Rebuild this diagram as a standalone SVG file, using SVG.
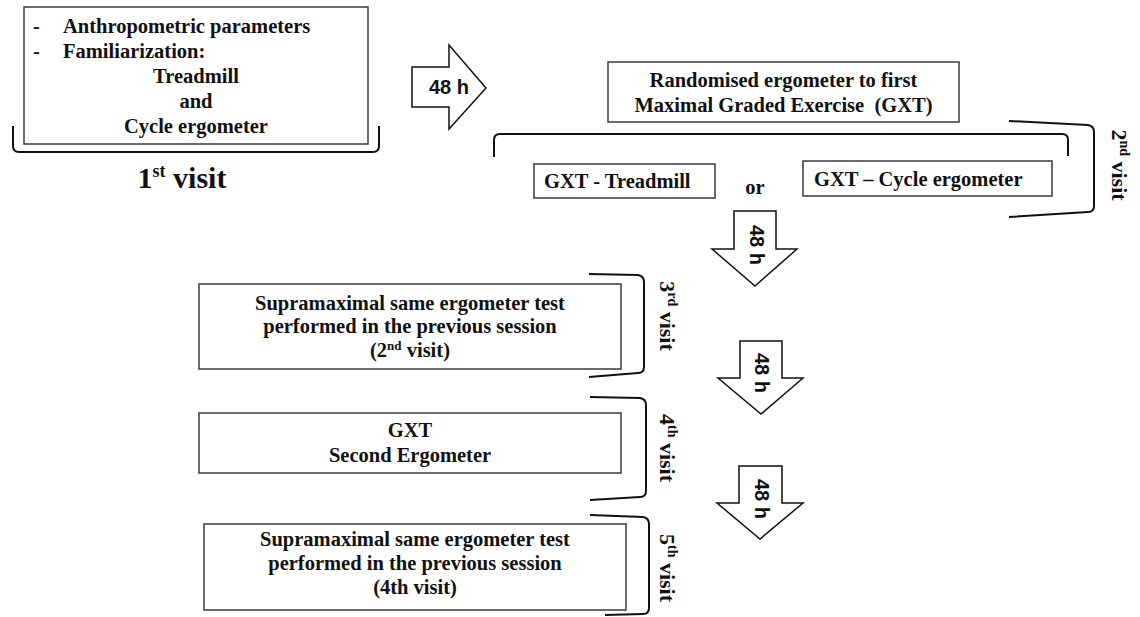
<svg xmlns="http://www.w3.org/2000/svg" width="1140" height="617" viewBox="0 0 1140 617">
<style>
.box{fill:#fff;stroke:#3a3a3a;stroke-width:1.5}
.br{fill:none;stroke:#111;stroke-width:2}
.arr{fill:#fff;stroke:#111;stroke-width:1.5;stroke-linejoin:miter}
.t{font-family:"Liberation Serif","Times New Roman",serif;font-weight:bold;font-size:20.5px;fill:#111}
.c{text-anchor:middle}
.lab{font-family:"Liberation Serif","Times New Roman",serif;font-weight:bold;font-size:22px;fill:#111;text-anchor:middle}
.h{font-family:"Liberation Sans",Arial,sans-serif;font-weight:bold;font-size:20px;fill:#111;text-anchor:middle}
</style>
<rect width="1140" height="617" fill="#fff"/>
<g id="connectors">
<polygon class="arr" points="412,67 449,67 449,45 486,88 449,129 449,107 412,107"/>
<text class="h" x="449" y="94">48 h</text>
<polygon class="arr" points="734,211 776,211 776,249 797,249 755,286 712,249 734,249"/>
<text class="h" transform="translate(750,245) rotate(90)">48 h</text>
<polygon class="arr" points="740,341 782,341 782,378 803,378 761,414 718,378 740,378"/>
<text class="h" transform="translate(755,373) rotate(90)">48 h</text>
<polygon class="arr" points="739,466 782,466 782,503 803,503 760,539 717,503 739,503"/>
<text class="h" transform="translate(755,499) rotate(90)">48 h</text>
</g>
<g id="visit1">
<rect class="box" x="24" y="7" width="344" height="137"/>
<text class="t" x="33" y="33">-</text>
<text class="t" x="63" y="33">Anthropometric parameters</text>
<text class="t" x="33" y="58">-</text>
<text class="t" x="63" y="58">Familiarization:</text>
<text class="t c" x="196" y="83">Treadmill</text>
<text class="t c" x="196" y="108">and</text>
<text class="t c" x="196" y="133">Cycle ergometer</text>
<path class="br" d="M13,126 L13,146 Q13,152 19,152 L373,152 Q379,152 379,146 L379,126"/>
<text class="lab" x="182" y="188" style="font-size:30px">1<tspan dy="-11" font-size="18">st</tspan><tspan dy="11"> visit</tspan></text>
</g>
<g id="visit2">
<rect class="box" x="608" y="62" width="351" height="60"/>
<text class="t c" x="783.5" y="87">Randomised ergometer to first</text>
<text class="t c" x="783.5" y="112" xml:space="preserve">Maximal Graded Exercise  (GXT)</text>
<path class="br" d="M494,157 L494,140 Q494,134 500,134 L1062,134 Q1068,134 1068,140 L1068,156"/>
<rect class="box" x="534" y="164" width="181" height="34"/>
<text class="t" x="544" y="188">GXT - Treadmill</text>
<text class="t c" x="755" y="194">or</text>
<rect class="box" x="803" y="161" width="249" height="35"/>
<text class="t" x="814" y="186">GXT – Cycle ergometer</text>
<path class="br" d="M1009,121 L1088,125 Q1094,126 1094,132 L1094,206 Q1094,212 1088,212 L1009,217"/>
<text class="lab" transform="translate(1112,165) rotate(90)">2<tspan dy="-8" font-size="14">nd</tspan><tspan dy="8"> visit</tspan></text>
</g>
<g id="visit3">
<rect class="box" x="199" y="284" width="422" height="85"/>
<text class="t c" x="410" y="310">Supramaximal same ergometer test</text>
<text class="t c" x="410" y="333">performed in the previous session</text>
<text class="t c" x="410" y="357">(2<tspan dy="-7" font-size="13">nd</tspan><tspan dy="7"> visit)</tspan></text>
<path class="br" d="M589,274 L638,275 Q644,276 644,282 L644,367 Q644,373 638,373 L589,377"/>
<text class="lab" transform="translate(660,316) rotate(90)">3<tspan dy="-8" font-size="14">rd</tspan><tspan dy="8"> visit</tspan></text>
</g>
<g id="visit4">
<rect class="box" x="199" y="413" width="422" height="60"/>
<text class="t c" x="410" y="437">GXT</text>
<text class="t c" x="410" y="462">Second Ergometer</text>
<path class="br" d="M590,397 L640,398 Q646,399 646,405 L646,491 Q646,497 640,497 L590,500"/>
<text class="lab" transform="translate(660,448) rotate(90)">4<tspan dy="-8" font-size="14">th</tspan><tspan dy="8"> visit</tspan></text>
</g>
<g id="visit5">
<rect class="box" x="204" y="524" width="422" height="86"/>
<text class="t c" x="415" y="546">Supramaximal same ergometer test</text>
<text class="t c" x="415" y="570">performed in the previous session</text>
<text class="t c" x="415" y="594">(4th visit)</text>
<path class="br" d="M590,515 L643,517 Q649,518 649,524 L649,608 Q649,614 643,614 L605,615"/>
<text class="lab" transform="translate(660,568) rotate(90)">5<tspan dy="-8" font-size="14">th</tspan><tspan dy="8"> visit</tspan></text>
</g>
</svg>
